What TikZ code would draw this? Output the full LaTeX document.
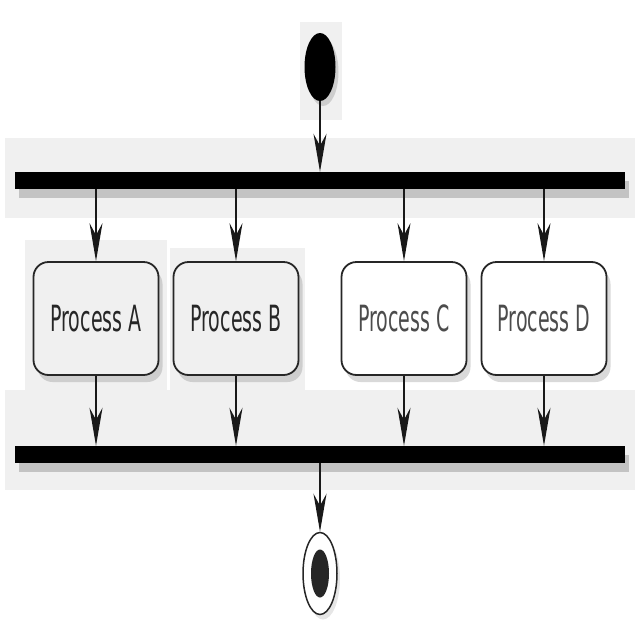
\documentclass[tikz,border=0pt]{standalone}
\usepackage{fontspec}
\setmainfont{DejaVu Sans}
\usetikzlibrary{arrows.meta,shapes.geometric,shadows}

\begin{document}
\begin{tikzpicture}[x=1pt, y=-1pt,
        flow/.style={line width=1.4pt, draw=black!90, -{Stealth[length=38pt, width=13pt, inset=12pt]}},
        bar/.style={rectangle, fill=black, inner sep=0pt, minimum width=610pt, minimum height=17pt,
            drop shadow={shadow xshift=4pt, shadow yshift=-9pt, opacity=0.4}},
        procbox/.style={rectangle, rounded corners=15pt, draw=black!85, line width=1.8pt,
            minimum width=125pt, minimum height=113pt, inner sep=0pt, text=black!85,
            font=\fontsize{19}{19}\selectfont,
            drop shadow={shadow xshift=4pt, shadow yshift=-7pt, opacity=0.3}},
        patch/.style={fill=black!6, draw=none}]
            \useasboundingbox (0, 0) rectangle (640, 640);

            \fill[patch] (5, 138) rectangle (635, 218);
            \fill[patch] (5, 390) rectangle (635, 490);
            \fill[patch] (300, 22) rectangle (342, 120);
            \fill[patch] (25, 240) rectangle (167, 390);
            \fill[patch] (170, 248) rectangle (305, 390);

            \node[ellipse, fill=black, inner sep=0pt, minimum width=31pt, minimum height=68pt,
                drop shadow={shadow xshift=3pt, shadow yshift=-5pt, opacity=0.3}] (start) at (320, 67) {};

            \node[bar] (fork) at (320, 180.5) {};
            \node[bar] (join) at (320, 454.5) {};

            \node[procbox, fill=black!6] (procA) at (96, 318.5) {\scalebox{1}[1.9]{Process A}};
            \node[procbox, fill=black!6] (procB) at (236, 318.5) {\scalebox{1}[1.9]{Process B}};
            \node[procbox, fill=white, text=black!70] (procC) at (404, 318.5) {\scalebox{1}[1.9]{Process C}};
            \node[procbox, fill=white, text=black!70] (procD) at (544, 318.5) {\scalebox{1}[1.9]{Process D}};

            \node[ellipse, draw=black!85, fill=white, line width=1.5pt, inner sep=0pt,
                minimum width=34pt, minimum height=82pt,
                drop shadow={shadow xshift=3pt, shadow yshift=-5pt, opacity=0.2}] (stop) at (320, 573.5) {};
            \node[ellipse, fill=black!85, inner sep=0pt, minimum width=18pt, minimum height=48pt] (stopdot) at (stop) {};

            \draw[flow] (start.south) -- (start.south |- fork.north);
            \foreach \p in {procA, procB, procC, procD} {
                \draw[flow] (\p.north |- fork.south) -- (\p.north);
                \draw[flow] (\p.south) -- (\p.south |- join.north);
            }
            \draw[flow] (join.south) -- (stop.north);

        \end{tikzpicture}
\end{document}
